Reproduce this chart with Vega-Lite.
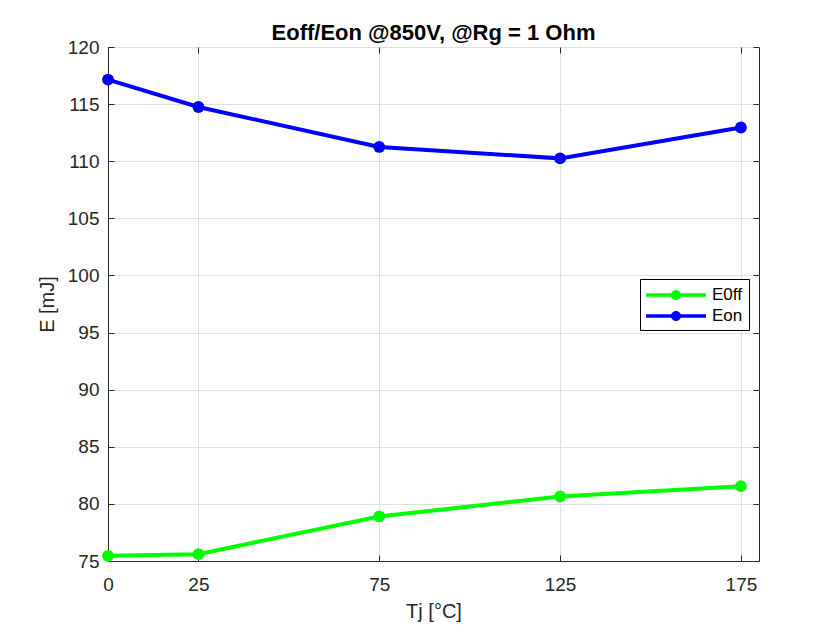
{
  "$schema": "https://vega.github.io/schema/vega-lite/v6.json",
  "width": 651,
  "height": 514,
  "autosize": {"type": "none"},
  "padding": {"left": 108, "top": 47, "right": 81, "bottom": 69},
  "background": "white",
  "title": {"text": "Eoff/Eon @850V, @Rg = 1 Ohm", "font": "Liberation Sans", "fontSize": 22, "fontWeight": "bold", "color": "black", "offset": -4, "dy": 3},
  "config": {
    "font": "Liberation Sans",
    "view": {"stroke": "#262626", "strokeWidth": 1},
    "axis": {
      "labelFont": "Liberation Sans", "labelFontSize": 19, "labelColor": "#262626", "labelFlush": false,
      "titleFont": "Liberation Sans", "titleFontSize": 20, "titleFontWeight": "normal", "titleColor": "#262626",
      "domainColor": "#262626", "tickColor": "#262626", "tickSize": -6,
      "gridColor": "#dfdfdf", "gridWidth": 1
    },
    "legend": {
      "title": null, "orient": "none", "legendX": 532, "legendY": 232,
      "symbolType": "M-1,-0.17H5V0.17H-1Z M2.5,0A0.5,0.5,0,1,1,1.5,0A0.5,0.5,0,1,1,2.5,0Z",
      "symbolSize": 400, "symbolStrokeWidth": 0, "symbolOpacity": 1,
      "labelOffset": 46, "labelFont": "Liberation Sans", "labelFontSize": 17, "labelColor": "black",
      "strokeColor": "black", "fillColor": "white", "padding": 6, "rowPadding": 3
    }
  },
  "data": {"values": [
    {"Tj": 0, "E": 75.45, "series": "E0ff"},
    {"Tj": 25, "E": 75.6, "series": "E0ff"},
    {"Tj": 75, "E": 78.9, "series": "E0ff"},
    {"Tj": 125, "E": 80.65, "series": "E0ff"},
    {"Tj": 175, "E": 81.55, "series": "E0ff"},
    {"Tj": 0, "E": 117.15, "series": "Eon"},
    {"Tj": 25, "E": 114.75, "series": "Eon"},
    {"Tj": 75, "E": 111.25, "series": "Eon"},
    {"Tj": 125, "E": 110.25, "series": "Eon"},
    {"Tj": 175, "E": 112.95, "series": "Eon"}
  ]},
  "resolve": {"axis": {"x": "independent", "y": "independent"}},
  "layer": [
    {
      "mark": {"type": "line", "strokeWidth": 4},
      "encoding": {
        "x": {"field": "Tj", "type": "quantitative", "scale": {"domain": [0, 180], "nice": false},
              "axis": {"title": "Tj [°C]", "values": [0, 25, 75, 125, 175], "labelPadding": 20, "titlePadding": 7, "grid": true}},
        "y": {"field": "E", "type": "quantitative", "scale": {"domain": [75, 120], "nice": false, "zero": false},
              "axis": {"title": "E [mJ]", "values": [75, 80, 85, 90, 95, 100, 105, 110, 115, 120], "labelPadding": 15, "titlePadding": 10, "grid": true}},
        "color": {"field": "series", "type": "nominal",
                  "scale": {"domain": ["E0ff", "Eon"], "range": ["#00ff00", "#0000ff"]}}
      }
    },
    {
      "mark": {"type": "point", "filled": true, "size": 140, "opacity": 1},
      "encoding": {
        "x": {"field": "Tj", "type": "quantitative", "axis": {"orient": "top", "values": [0, 25, 75, 125, 175], "labels": false, "title": null, "grid": false, "domain": false}},
        "y": {"field": "E", "type": "quantitative", "axis": {"orient": "right", "values": [75, 80, 85, 90, 95, 100, 105, 110, 115, 120], "labels": false, "title": null, "grid": false, "domain": false}},
        "color": {"field": "series", "type": "nominal",
                  "scale": {"domain": ["E0ff", "Eon"], "range": ["#00ff00", "#0000ff"]}}
      }
    }
  ]
}
